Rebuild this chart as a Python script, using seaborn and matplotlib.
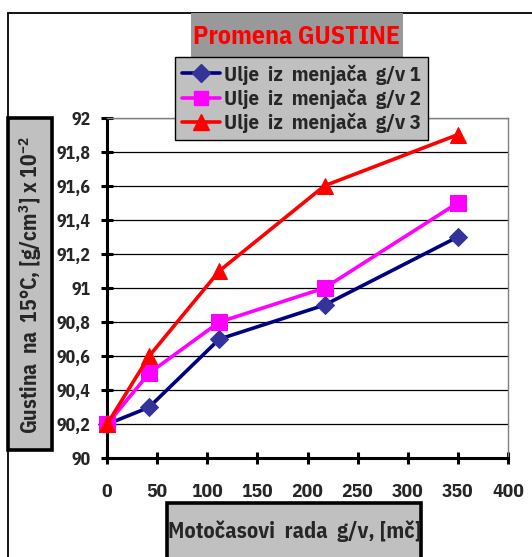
import matplotlib
matplotlib.use("Agg")
import matplotlib.pyplot as plt
import seaborn as sns
import pandas as pd
from matplotlib.patches import Rectangle
from matplotlib.lines import Line2D
import matplotlib.font_manager as fm

# ---- data ----
hours = [0, 42, 112, 217, 350]
series_names = ["Ulje  iz  menjača  g/v 1", "Ulje  iz  menjača  g/v 2", "Ulje  iz  menjača  g/v 3"]
oil1 = [90.2, 90.3, 90.7, 90.9, 91.3]
oil2 = [90.2, 90.5, 90.8, 91.0, 91.5]
oil3 = [90.2, 90.6, 91.1, 91.6, 91.9]
y_ticks = [90, 90.2, 90.4, 90.6, 90.8, 91, 91.2, 91.4, 91.6, 91.8, 92]
y_tick_labels = ["90", "90,2", "90,4", "90,6", "90,8", "91", "91,2", "91,4", "91,6", "91,8", "92"]
x_ticks = [0, 50, 100, 150, 200, 250, 300, 350, 400]
title = "Promena GUSTINE"
x_label = "Motočasovi  rada  g/v, [mč]"
y_label = r"Gustina  na  15°C, [g/cm$^{\mathbf{3}}$] x 10$^{\mathbf{-2}}$"

df = pd.DataFrame({
    "h": hours * 3,
    "v": oil1 + oil2 + oil3,
    "s": [series_names[0]] * 5 + [series_names[1]] * 5 + [series_names[2]] * 5,
})

sns.set_theme(style="white")

family = "Liberation Sans"
for f in fm.findSystemFonts():
    if f.endswith("IBMPlexSansCondensed-Bold.ttf"):
        fm.fontManager.addfont(f)
        family = fm.FontProperties(fname=f).get_name()
        break
plt.rcParams["font.family"] = [family, "DejaVu Sans"]
plt.rcParams["font.weight"] = "bold"
plt.rcParams["mathtext.fontset"] = "custom"
plt.rcParams["mathtext.bf"] = family + ":bold"
plt.rcParams["mathtext.rm"] = family + ":bold"
plt.rcParams["mathtext.default"] = "bf"

W, H = 532, 557
fig = plt.figure(figsize=(W / 100, H / 100), dpi=100)
fig.patch.set_facecolor("white")

def fx(px):
    return px / W

def fy(py):
    return 1 - py / H

ax = fig.add_axes([fx(107), fy(458.4), fx(508) - fx(107), fy(117.6) - fy(458.4)])

palette = {series_names[0]: "#000080", series_names[1]: "#FF00FF", series_names[2]: "#FF0000"}
mfc = {series_names[0]: "#333399", series_names[1]: "#FF00FF", series_names[2]: "#FF0000"}
markers = {series_names[0]: "D", series_names[1]: "s", series_names[2]: "^"}
msize = {series_names[0]: 9.5, series_names[1]: 11, series_names[2]: 12}

for name in series_names:
    sub = df[df["s"] == name]
    sns.lineplot(data=sub, x="h", y="v", ax=ax, color=palette[name], lw=2.6,
                 marker=markers[name], markersize=msize[name],
                 markerfacecolor=mfc[name], markeredgecolor=mfc[name],
                 label=name, legend=False, clip_on=False, zorder=5)

ax.set_xlim(0, 400)
ax.set_ylim(90, 92)
ax.set_yticks(y_ticks)
ax.set_yticklabels(y_tick_labels)
ax.set_xticks(x_ticks)
ax.set_xticklabels([str(t) for t in x_ticks])
ax.set_xlabel("")
ax.set_ylabel("")
ax.grid(axis="y", color="#000000", lw=0.9)
ax.grid(axis="x", visible=False)
ax.set_axisbelow(True)
for side in ["top", "right"]:
    ax.spines[side].set_color("#808080")
    ax.spines[side].set_linewidth(1.0)
for side in ["left", "bottom"]:
    ax.spines[side].set_color("black")
    ax.spines[side].set_linewidth(2.2)
ax.tick_params(axis="y", direction="inout", length=8, width=2.2, color="black",
               labelsize=12.8, pad=8, left=True)
ax.tick_params(axis="x", direction="inout", length=8, width=2.2, color="black",
               labelsize=14, pad=14, bottom=True)
for lab in ax.get_xticklabels() + ax.get_yticklabels():
    lab.set_fontweight("bold")

# outer chart border
fig.add_artist(Line2D([fx(7.5), fx(7.5)], [0, fy(13)], transform=fig.transFigure, color="black", lw=1.3))
fig.add_artist(Line2D([fx(7.5), 1], [fy(13), fy(13)], transform=fig.transFigure, color="black", lw=1.3))

# title box
fig.add_artist(Rectangle((fx(191), fy(57)), fx(403) - fx(191), fy(13) - fy(57),
                         transform=fig.transFigure, facecolor="#999999", edgecolor="none", zorder=6))
fig.text(fx(297), fy(37), title, color="#FF0000", fontsize=18.6, fontweight="bold",
         ha="center", va="center", zorder=7)

# legend
handles = [Line2D([], [], color=palette[n], lw=2.6, marker=markers[n], markersize=msize[n] * 0.95,
                  markerfacecolor=mfc[n], markeredgecolor=mfc[n]) for n in series_names]
leg = fig.legend(handles, series_names, loc="upper left",
                 bbox_to_anchor=(fx(175), fy(57)), bbox_transform=fig.transFigure,
                 frameon=True, fancybox=False, facecolor="#C0C0C0", edgecolor="black",
                 framealpha=1, prop={"weight": "bold", "size": 15},
                 handlelength=1.8, handletextpad=0.2, labelspacing=0.18,
                 borderpad=0.35, borderaxespad=0)
leg.get_frame().set_linewidth(1.0)
leg.set_zorder(8)

# y label box
fig.add_artist(Rectangle((fx(7.5), fy(450)), fx(52) - fx(7.5), fy(118) - fy(450),
                         transform=fig.transFigure, facecolor="#C0C0C0", edgecolor="black", lw=2.6, zorder=6))
fig.text(fx(30), fy(285), y_label, rotation=90, fontsize=15.5, fontweight="bold",
         ha="center", va="center", zorder=7)

# x label box
fig.add_artist(Rectangle((fx(167), fy(562)), fx(421) - fx(167), fy(503) - fy(562),
                         transform=fig.transFigure, facecolor="#C0C0C0", edgecolor="black", lw=2.6, zorder=6))
fig.text(fx(294.5), fy(531), x_label, fontsize=16, fontweight="bold",
         ha="center", va="center", zorder=7)

fig.savefig("out.png", dpi=100)
